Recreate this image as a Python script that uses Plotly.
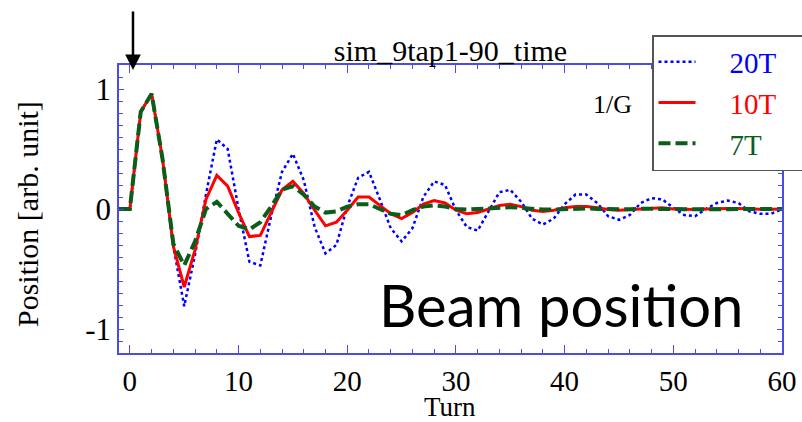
import plotly.graph_objects as go

# ---------------- data ----------------
turns = list(range(-1, 61))

pos_20T = [0, 0, 0.81, 0.96, 0.42, -0.31, -0.81, -0.38, 0.12, 0.58, 0.50,
           0.0, -0.44, -0.47, -0.06, 0.31, 0.46, 0.24, -0.15, -0.37, -0.30,
           0.02, 0.26, 0.31, 0.08, -0.16, -0.27, -0.16, 0.10, 0.23, 0.20,
           -0.01, -0.15, -0.18, -0.02, 0.14, 0.16, 0.06, -0.08, -0.13, -0.08,
           0.04, 0.12, 0.12, 0.05, -0.06, -0.09, -0.05, 0.05, 0.09, 0.08,
           0.01, -0.05, -0.06, 0.0, 0.05, 0.07, 0.05, -0.02, -0.04, -0.04, 0.0]

pos_10T = [0, 0, 0.81, 0.96, 0.42, -0.31, -0.65, -0.34, 0.08, 0.28, 0.19,
           -0.03, -0.23, -0.22, -0.03, 0.16, 0.23, 0.13, -0.01, -0.14, -0.11,
           -0.01, 0.10, 0.10, 0.03, -0.04, -0.08, -0.03, 0.04, 0.07, 0.05,
           -0.01, -0.04, -0.03, 0.0, 0.03, 0.04, 0.02, -0.01, -0.02, -0.01,
           0.01, 0.02, 0.02, 0.01, -0.005, -0.01, -0.005, 0.005, 0.01, 0.01,
           0.0, -0.005, -0.005, 0.0, 0.005, 0.005, 0.005, 0.0, -0.003, -0.003, 0.0]

pos_7T = [0, 0, 0.81, 0.96, 0.42, -0.29, -0.47, -0.27, 0.0, 0.06, -0.04,
          -0.14, -0.17, -0.11, 0.02, 0.16, 0.19, 0.12, 0.02, -0.03, -0.02,
          0.02, 0.04, 0.04, 0.0, -0.04, -0.05, -0.01, 0.02, 0.03, 0.02,
          0.0, -0.005, 0.0, 0.01, 0.015, 0.015, 0.01, 0.0, -0.005, -0.005,
          0.0, 0.005, 0.005, 0.0, -0.003, -0.004, -0.002, 0.002, 0.004, 0.003,
          0.0, -0.002, -0.002, 0.0, 0.002, 0.002, 0.001, 0.0, -0.001, -0.001, 0.0]

series_names = ["20T", "10T", "7T"]
series_values = [pos_20T, pos_10T, pos_7T]
series_colors = ["#0000ff", "#ff0000", "#0b5d1b"]
series_widths = [2.5, 3, 4]
series_dash = ["dot", "solid", "12px,5px"]

y_tick_vals = [-1, 0, 1]
y_tick_text = ["-1", "0", "1"]

title_text = "sim_9tap1-90_time"
x_title = "Turn"
y_title = "Position [arb. unit]"
gain_text = "1/G"
big_label = "Beam position"

# ---------------- layout geometry ----------------
W, H = 802, 422
L, R, T, B = 119, 20, 65, 69
PW, PH = W - L - R, H - T - B


def px_to_paper(px, py):
    return (px - L) / PW, (H - B - py) / PH


axis_color = "#4b4be6"
serif = "Liberation Serif"

fig = go.Figure()
NB = "\u00a0"
for name, vals, col, w, d in zip(series_names, series_values, series_colors,
                                  series_widths, series_dash):
    fig.add_trace(go.Scatter(
        x=turns, y=vals, mode="lines",
        name=f"{NB*4}<span style='color:{col}'>{name}</span>{NB*4}",
        line=dict(color=col, width=w, dash=d),
    ))

common = dict(showline=True, linecolor=axis_color, linewidth=1.5,
              mirror="allticks", ticks="inside", tickcolor=axis_color,
              tickwidth=1.2, showgrid=False, zeroline=False)

fig.update_xaxes(range=[-1, 60], tickmode="linear", tick0=0, dtick=10,
                 ticklen=8, ticklabelstandoff=1,
                 tickfont=dict(family=serif, size=29, color="black"),
                 minor=dict(tickmode="linear", tick0=0, dtick=2, ticklen=4,
                            ticks="inside", tickcolor=axis_color, tickwidth=1,
                            showgrid=False),
                 **common)
fig.update_yaxes(range=[-1.2, 1.2], tickmode="array", tickvals=y_tick_vals,
                 ticktext=y_tick_text,
                 ticklen=5, ticklabelstandoff=0,
                 tickfont=dict(family=serif, size=31, color="black"),
                 minor=dict(tickmode="linear", tick0=0, dtick=0.1, ticklen=4,
                            ticks="inside", tickcolor=axis_color, tickwidth=1,
                            showgrid=False),
                 **common)

lx, ly = px_to_paper(652, 35)
ax_, ay_ = px_to_paper(133, 70)
gx, gy = px_to_paper(612, 105)
bx, by = px_to_paper(561, 304)
ytx, yty = px_to_paper(27, 214)
xtx, xty = px_to_paper(450, 407)

fig.update_layout(
    width=W, height=H,
    margin=dict(l=L, r=R, t=T, b=B, autoexpand=False),
    paper_bgcolor="white", plot_bgcolor="white",
    showlegend=True,
    legend=dict(x=lx, y=ly, xanchor="left", yanchor="top",
                bgcolor="white", bordercolor="#555555", borderwidth=1.5,
                font=dict(family=serif, size=29, color="black"),
                itemwidth=37, tracegroupgap=0),
    title=dict(text=title_text, x=0.5, xref="paper", xanchor="center",
               y=(H - 50) / H, yref="container", yanchor="middle",
               font=dict(family=serif, size=30, color="black")),
    annotations=[
        dict(x=ax_, y=ay_, xref="paper", yref="paper", text="",
             showarrow=True, ax=0, ay=-60, arrowhead=2, arrowsize=1.25,
             arrowwidth=2.5, arrowcolor="black"),
        dict(x=gx, y=gy, xref="paper", yref="paper", text=gain_text,
             showarrow=False, xanchor="center", yanchor="middle",
             font=dict(family=serif, size=26, color="black")),
        dict(x=bx, y=by, xref="paper", yref="paper", text=big_label,
             showarrow=False, xanchor="center", yanchor="middle",
             font=dict(family="Lato", size=58, color="black")),
        dict(x=ytx, y=yty, xref="paper", yref="paper", text=y_title,
             textangle=-90, showarrow=False, xanchor="center", yanchor="middle",
             font=dict(family=serif, size=30, color="black")),
        dict(x=xtx, y=xty, xref="paper", yref="paper", text=x_title,
             showarrow=False, xanchor="center", yanchor="middle",
             font=dict(family=serif, size=27, color="black")),
    ],
)

fig.write_html("out.html",
               config={"displayModeBar": False},
               post_script="document.body.style.margin='0px';")
